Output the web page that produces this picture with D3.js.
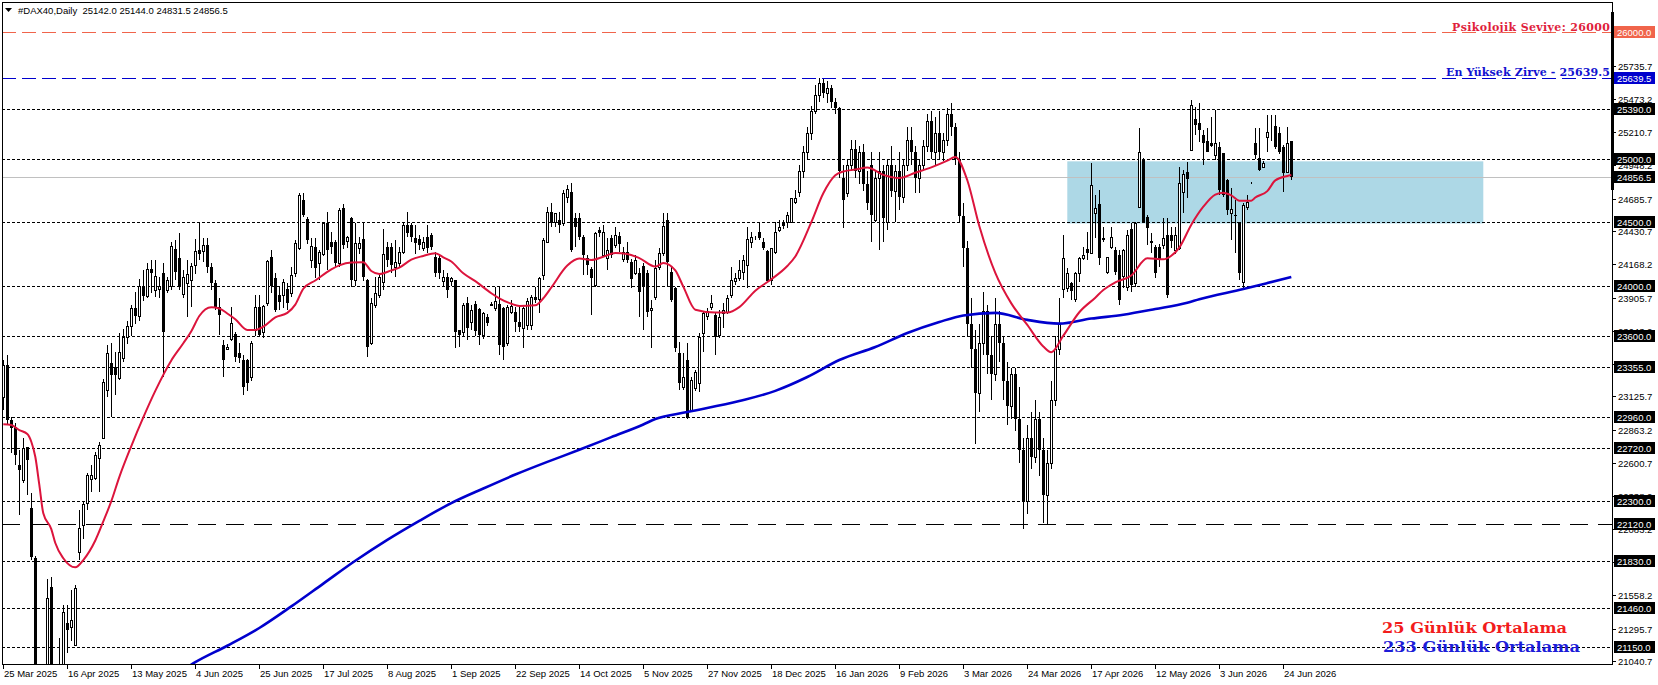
<!DOCTYPE html>
<html><head><meta charset="utf-8">
<script src="https://cdn.jsdelivr.net/npm/d3@7"></script>
<style>html,body{margin:0;padding:0;background:#fff;overflow:hidden}</style>
</head><body>
<svg id="c" width="1658" height="685"></svg>
<script>
const headerText = "#DAX40,Daily  25142.0 25144.0 24831.5 24856.5";

const opens = [
23122,23374,22940,22885,22585,22467,22727,22246,21850,20300,
19900,20700,21620,20950,20700,20950,21340,21310,21166,21900,
22112,22286,22475,22483,22640,22798,23177,23390,23358,23271,
23429,23595,23680,23820,23760,24000,23920,24128,23966,23971,
24097,23966,23997,24286,24215,23934,24023,24044,24163,24281,
24276,24320,24144,24018,23834,23532,23500,23576,23618,23466,
23414,23414,23282,23650,23834,23637,23860,24223,24057,23926,
23926,23971,23939,24097,24294,24675,24523,24202,24307,24176,
24250,24497,24347,24347,24176,24610,24355,24531,24044,24300,
24365,24044,23545,23847,23926,24031,24307,24307,24144,24181,
24268,24478,24478,24373,24365,24300,24386,24400,24228,24215,
24039,24070,24039,24044,23650,23637,23866,23716,23855,23813,
23611,23755,23850,23821,23855,23821,23545,23795,23795,23716,
23663,23690,23690,23913,23892,24084,24347,24583,24504,24518,
24491,24700,24741,24531,24531,24386,24215,24128,24005,24439,
24242,24215,24373,24320,24391,24207,24268,24189,24097,24097,
24155,24097,23808,23913,24150,24255,24518,24110,23979,23466,
23203,23414,23019,23190,23230,23624,23760,23834,23768,23611,
23781,23795,23926,24040,24057,24110,24163,24340,24373,24425,
24347,24276,24044,24268,24439,24490,24504,24504,24660,24741,
24900,25050,25200,25380,25500,25600,25520,25560,25450,25400,
24850,24728,24950,25080,24900,25050,24800,24950,24518,24850,
24900,24500,24950,24750,24900,24700,24950,25150,25050,24850,
24950,25100,25300,25050,25200,25050,25150,25350,25250,25000,
24550,24300,23700,23500,23150,23550,23800,23450,23300,23700,
23550,23250,23050,23300,22950,22700,22300,22800,22650,22950,
22700,22350,22600,23100,23500,23971,23979,24023,23892,24097,
24215,24286,24254,24570,24644,24373,24110,24307,24281,24241,
24076,23992,24444,24018,24622,24996,24544,24350,24307,24307,
24320,24399,24399,24281,24294,24741,24899,25070,25311,25285,
25188,25143,25122,25030,25096,25043,24833,24570,24560,24504,
24031,24617,24812,25122,25004,24938,25169,25148,25259,25201,
25096,24899,25142];

const highs = [
23413,23453,22960,22917,22704,22798,22727,22365,21870,20800,
20900,21690,21700,21000,21220,21480,21480,21600,21640,22230,
22290,22522,22585,22690,22767,23260,23532,23547,23476,23626,
23660,23720,23850,23950,24050,24120,24180,24200,24200,24070,
24176,24070,24347,24360,24412,24123,24200,24176,24365,24491,
24373,24373,24176,24044,23900,23571,23540,23834,23637,23545,
23450,23420,23560,23926,23926,23850,24202,24281,24097,23992,
24050,24018,24150,24360,24728,24733,24540,24373,24373,24281,
24497,24583,24426,24360,24610,24644,24390,24540,24491,24380,
24491,24050,23900,24070,24100,24444,24347,24333,24360,24307,
24491,24583,24491,24478,24400,24380,24478,24412,24268,24250,
24123,24097,24070,24044,23650,23860,23913,23847,23880,23821,
23795,23780,23870,23992,23992,23834,23847,23887,23834,23834,
23834,23900,23926,23992,24070,24373,24623,24649,24570,24583,
24754,24790,24807,24570,24570,24400,24242,24150,24425,24465,
24478,24373,24400,24465,24425,24307,24347,24207,24242,24136,
24176,24123,23887,24202,24300,24570,24570,24150,23992,23558,
23466,23545,23282,23335,23624,23795,23820,23926,23781,23808,
23860,23926,24150,24097,24202,24242,24465,24420,24390,24504,
24373,24281,24294,24504,24518,24518,24583,24688,24754,24950,
25100,25250,25420,25580,25640,25630,25610,25580,25480,25410,
24950,25000,25150,25150,25100,25120,24900,25050,24900,25050,
24950,25000,25100,24950,25050,25000,25250,25250,25100,25000,
25150,25350,25380,25330,25380,25200,25400,25440,25280,25050,
24650,24350,23900,23650,23700,23950,23850,23600,23900,23800,
23600,23400,23350,23350,23200,22800,22900,23000,23100,23000,
22800,22700,23250,23600,23900,24400,24140,24030,24110,24228,
24307,24425,24964,24714,24754,24465,24228,24465,24307,24280,
24290,24440,24490,24505,25240,25004,24557,24412,24320,24330,
24530,24530,24465,24465,24938,24912,24978,25464,25411,25437,
25227,25240,25332,25385,25135,25043,24840,24767,24675,24504,
24649,24715,24820,25240,25240,24980,25346,25346,25346,25254,
25110,25254,25144];

const lows = [
23019,22900,22680,22585,22191,22440,22349,21836,20400,19100,
19600,20500,20800,20500,20600,20900,21100,21200,21160,21836,
22000,22230,22372,22470,22372,22790,23122,22964,23137,23255,
23400,23540,23600,23700,23720,23880,23900,23940,23913,23900,
23282,23940,23966,24044,23966,23900,23755,23834,24092,24202,
24189,24097,23966,23808,23611,23282,23490,23560,23400,23387,
23140,23170,23250,23600,23598,23590,23840,23940,23790,23808,
23821,23808,23913,24070,24281,24544,24330,24136,24057,24044,
24230,24123,24250,24150,24150,24290,24300,23992,24000,24250,
24040,23440,23530,23820,23900,23966,24150,24100,24070,24150,
24250,24380,24340,24250,24280,24270,24255,24280,24070,24050,
24000,23900,24000,23506,23519,23598,23571,23650,23600,23532,
23580,23680,23840,23800,23453,23414,23520,23780,23637,23637,
23506,23650,23650,23860,23782,24044,24334,24465,24465,24412,
24470,24650,24268,24307,24360,24084,24084,23768,23992,24380,
24228,24123,24220,24300,24268,24190,24180,23979,24080,23755,
23650,23750,23506,23890,24120,24230,23992,23870,23480,23177,
23180,22946,23000,23170,23164,23480,23730,23810,23453,23590,
23663,23780,23900,24005,24040,24044,23979,24300,24360,24360,
24280,24031,24005,24250,24420,24450,24452,24490,24640,24700,
24850,25000,25150,25350,25450,25480,25440,25400,25350,24850,
24452,24700,24900,24850,24800,24750,24600,24347,24500,24281,
24347,24439,24700,24500,24600,24650,24900,24950,24728,24728,
24900,25050,25000,24950,25000,24980,25100,25180,24950,24500,
24150,23600,23350,22750,23000,23450,23300,23100,23250,23400,
23100,22900,22950,22850,22600,22080,22200,22550,22600,22500,
22130,22120,22550,23050,23450,23900,23950,23885,23870,24030,
24200,24202,24250,24373,24162,24340,24090,24290,24084,23850,
23980,23960,23950,23990,24610,24491,24320,24254,24057,24150,
24290,23900,24300,24250,24280,24570,24688,25060,25188,25135,
24951,25050,25090,24990,24715,24700,24560,24360,24255,24044,
23965,24600,24800,25000,24900,24930,25050,25140,25080,25040,
24741,24890,24831.5];

const closes = [
23374,22940,22880,22664,22546,22720,22625,21860,20600,19900,
20500,21540,20950,20700,20950,21426,21285,21365,21615,22090,
22278,22506,22506,22664,22743,23240,23469,23295,23295,23476,
23595,23680,23820,23760,24000,23920,24130,24097,24076,23997,
23637,24044,24312,24110,23987,24070,24092,24155,24276,24250,
24320,24144,24023,23834,23768,23414,23519,23703,23440,23427,
23200,23230,23545,23834,23611,23839,24197,23997,23808,23874,
24031,23866,24084,24333,24715,24557,24360,24312,24136,24268,
24491,24281,24307,24176,24596,24320,24381,24044,24333,24333,
24070,23519,23866,23939,24070,24250,24202,24163,24189,24268,
24478,24418,24386,24333,24320,24347,24294,24307,24097,24097,
24070,23966,24057,23637,23611,23847,23663,23808,23640,23611,
23781,23708,23855,23881,23532,23519,23829,23839,23716,23671,
23821,23880,23913,23887,24057,24360,24583,24491,24570,24478,
24728,24760,24281,24465,24386,24242,24163,24057,24412,24418,
24425,24281,24242,24400,24328,24268,24202,24050,24202,23952,
23992,23795,23821,24136,24255,24470,24189,23887,23506,23230,
23282,22953,23256,23322,23598,23781,23803,23860,23598,23755,
23808,23900,24044,24060,24123,24202,24365,24380,24375,24373,
24294,24039,24294,24425,24465,24470,24557,24688,24688,24900,
25050,25200,25380,25500,25600,25520,25560,25450,25400,24900,
24675,24950,25080,24900,25050,24800,24650,24557,24850,24900,
24530,24950,24750,24900,24700,24950,25150,25050,24850,24950,
25100,25300,25050,25200,25050,25150,25350,25250,25000,24550,
24300,23700,23500,23150,23550,23800,23450,23300,23700,23550,
23250,23050,23300,22950,22700,22300,22800,22650,22950,22700,
22350,22600,23100,23500,23700,24215,24102,23960,24097,24215,
24241,24260,24793,24609,24215,24360,24223,24386,24110,23887,
24281,24399,24005,24496,25056,24491,24452,24339,24097,24200,
24373,23926,24350,24399,24812,24880,24838,25424,25267,25227,
25127,25056,25101,25127,24754,24715,24596,24601,24549,24097,
24636,24662,24812,25030,24912,24970,25209,25150,25096,25056,
24885,25122,24856.5];

// 25-day moving average, read at these bars
const ma25Bars = [0,2,4,6,7,8,9,10,12,13,15,18,20,23,25,27,29,32,35,38,42,45,47,49,52,54,56,58,61,63,65,68,71,73,75,78,82,84,87,90,92,94,97,99,102,105,108,110,112,115,118,122,124,127,129,133,135,137,141,144,147,150,153,156,159,163,165,168,170,173,178,181,184,188,192,196,198,202,205,208,210,213,216,220,224,228,232,236,238,241,244,248,252,256,260,262,265,269,273,275,278,282,286,290,292,294,297,300,303,305,307,309,312,313,316,318,321,322];
const ma25Values = [22906,22900,22861,22830,22769,22650,22430,22204,22080,21970,21850,21778,21836,21990,22140,22300,22490,22735,22961,23170,23410,23545,23640,23760,23829,23820,23780,23735,23650,23650,23676,23750,23785,23850,23975,24040,24128,24160,24183,24185,24115,24092,24120,24142,24205,24234,24255,24223,24190,24097,24035,23940,23900,23857,23840,23845,23900,23985,24158,24213,24202,24228,24258,24250,24217,24150,24178,24120,23992,23810,23787,23787,23830,23960,24050,24155,24230,24500,24728,24870,24900,24915,24932,24873,24848,24890,24932,24985,25015,24831,24470,24100,23860,23690,23520,23475,23605,23790,23905,23965,24025,24080,24215,24207,24235,24300,24480,24622,24718,24733,24712,24670,24670,24695,24745,24830,24865,24872];

// 233-day moving average, read at these bars
const ma233Bars = [44,48,56,64,72,80,88,96,104,112,120,128,136,144,152,160,163,171,184,193,201,209,218,226,234,240,248,256,264,272,280,288,296,299,310,316,322];
const ma233Values = [20950,21030,21160,21300,21470,21650,21830,21995,22145,22285,22400,22510,22610,22705,22805,22905,22948,23003,23090,23170,23279,23413,23516,23626,23713,23765,23785,23730,23700,23740,23770,23815,23865,23892,23973,24020,24068];

const xTickLabels = ["25 Mar 2025","16 Apr 2025","13 May 2025","4 Jun 2025","25 Jun 2025","17 Jul 2025","8 Aug 2025","1 Sep 2025","22 Sep 2025","14 Oct 2025","5 Nov 2025","27 Nov 2025","18 Dec 2025","16 Jan 2026","9 Feb 2026","3 Mar 2026","24 Mar 2026","17 Apr 2026","12 May 2026","3 Jun 2026","24 Jun 2026"];
const barsPerLabel = 16;

const axisTickValues = [25735.7,25473.2,25210.7,24948.2,24685.7,24430.7,24168.2,23905.7,23643.2,23380.7,23125.7,22863.2,22600.7,22338.2,22083.2,21820.7,21558.2,21295.7,21040.7];
const dottedLevels = [25390,25000,24500,24000,23600,23355,22960,22720,22300,21830,21460,21150];
const longDashLevel = 22120;
const psychLevel = 26000;
const athLevel = 25639.5;
const lastPrice = 24856.5;
const zoneTop = 24980, zoneBottom = 24490, zoneFromBar = 266, zoneToBar = 370;

const psychText = "Psikolojik Seviye: 26000";
const athText = "En Yüksek Zirve - 25639.5";
const legendFast = "25 Günlük Ortalama";
const legendSlow = "233 Günlük Ortalama";

// ---------- drawing ----------
const svg = d3.select("#c");
const P = {left: 2, top: 2, right: 1612, bottom: 664};
const y = d3.scaleLinear().domain([21016, 26236.6]).range([P.bottom, P.top]);
const x = d3.scaleLinear().domain([0, 400]).range([3.3, 1603.3]);
const AX = "Liberation Sans, Arial, sans-serif";

svg.append("rect").attr("width",1658).attr("height",685).attr("fill","#fff");
svg.append("defs").append("clipPath").attr("id","clip")
  .append("rect").attr("x",P.left).attr("y",P.top).attr("width",P.right-P.left).attr("height",P.bottom-P.top);
const g = svg.append("g").attr("clip-path","url(#clip)");

// zone
g.append("rect").attr("x",x(zoneFromBar)).attr("y",y(zoneTop))
  .attr("width",x(zoneToBar)-x(zoneFromBar)).attr("height",y(zoneBottom)-y(zoneTop))
  .attr("fill","#ADD8E6");

const hline = (v, color, dash, w) => g.append("line")
  .attr("x1",P.left).attr("x2",P.right)
  .attr("y1",Math.round(y(v))+0.5).attr("y2",Math.round(y(v))+0.5)
  .attr("stroke",color).attr("stroke-width",w||1)
  .attr("stroke-dasharray",dash||null).attr("shape-rendering","crispEdges");

hline(lastPrice, "#C0C0C0");
dottedLevels.forEach(v => hline(v, "#000", "3,2"));
hline(longDashLevel, "#000", "18,10");
hline(psychLevel, "#F0644B", "14,6");
hline(athLevel, "#0000CD", "14,6");

// candles
const cg = g.append("g").attr("shape-rendering","crispEdges");
closes.forEach((c, i) => {
  const cx = Math.round(x(i));
  const o = opens[i], h = highs[i], l = lows[i];
  cg.append("line").attr("x1",cx+0.5).attr("x2",cx+0.5)
    .attr("y1",y(h)).attr("y2",y(l)).attr("stroke","#000").attr("stroke-width",1);
  const top = Math.round(y(Math.max(o,c))), bot = Math.round(y(Math.min(o,c)));
  if (c >= o) {
    cg.append("rect").attr("x",cx-0.5).attr("y",top+0.5)
      .attr("width",2).attr("height",Math.max(bot-top,0))
      .attr("fill","#fff").attr("stroke","#000").attr("stroke-width",1);
  } else {
    cg.append("rect").attr("x",cx-1).attr("y",top)
      .attr("width",3).attr("height",Math.max(bot-top,1)).attr("fill","#000");
  }
});

// moving averages
const lineGen = d3.line().x(d => x(d[0])).y(d => y(d[1])).curve(d3.curveMonotoneX);
g.append("path").datum(ma233Bars.map((b,i)=>[b,ma233Values[i]]))
  .attr("d",lineGen).attr("fill","none").attr("stroke","#0000CD").attr("stroke-width",2.6);
g.append("path").datum(ma25Bars.map((b,i)=>[b,ma25Values[i]]))
  .attr("d",lineGen).attr("fill","none").attr("stroke","#DC143C").attr("stroke-width",2);

// annotations
const SERIF = "DejaVu Serif, Liberation Serif, serif";
svg.append("text").attr("x",1610).attr("y",y(psychLevel)-1.5).attr("text-anchor","end")
  .attr("font-family",SERIF).attr("font-size",11).attr("font-weight","bold").attr("fill","#E01E3C")
  .attr("textLength",158).attr("lengthAdjust","spacing").text(psychText);
svg.append("text").attr("x",1610).attr("y",y(athLevel)-1.5).attr("text-anchor","end")
  .attr("font-family",SERIF).attr("font-size",11).attr("font-weight","bold").attr("fill","#1212D0")
  .attr("textLength",164).attr("lengthAdjust","spacing").text(athText);
svg.append("text").attr("x",1382).attr("y",633)
  .attr("font-family",SERIF).attr("font-size",15).attr("font-weight","bold").attr("fill","#F21C1C")
  .attr("textLength",185).attr("lengthAdjust","spacingAndGlyphs").text(legendFast);
svg.append("text").attr("x",1383).attr("y",652)
  .attr("font-family",SERIF).attr("font-size",15).attr("font-weight","bold").attr("fill","#1C1CD8")
  .attr("textLength",197).attr("lengthAdjust","spacingAndGlyphs").text(legendSlow);

// frame
const fr = svg.append("g").attr("shape-rendering","crispEdges").attr("stroke","#000");
fr.append("line").attr("x1",P.left+0.5).attr("x2",P.left+0.5).attr("y1",P.top).attr("y2",P.bottom+1);
fr.append("line").attr("x1",P.left).attr("x2",P.right+1).attr("y1",P.top+0.5).attr("y2",P.top+0.5);
fr.append("line").attr("x1",P.right+0.5).attr("x2",P.right+0.5).attr("y1",P.top).attr("y2",P.bottom+1);
fr.append("line").attr("x1",P.left).attr("x2",P.right+1).attr("y1",P.bottom+0.5).attr("y2",P.bottom+0.5);
svg.append("rect").attr("x",P.right-1).attr("y",12).attr("width",3).attr("height",178).attr("fill","#000");

// right axis plain ticks
const ra = svg.append("g").attr("font-family",AX).attr("font-size",9.5);
axisTickValues.forEach(v => {
  const yy = Math.round(y(v));
  ra.append("line").attr("x1",P.right).attr("x2",P.right+4).attr("y1",yy+0.5).attr("y2",yy+0.5)
    .attr("stroke","#000").attr("shape-rendering","crispEdges");
  ra.append("text").attr("x",1618).attr("y",yy+3.5).attr("fill","#000").text(v.toFixed(1));
});
// boxed labels
const box = (v, bg) => {
  const yy = Math.round(y(v));
  ra.append("rect").attr("x",1614).attr("y",yy-6).attr("width",41).attr("height",12).attr("fill",bg);
  ra.append("text").attr("x",1617).attr("y",yy+3.5).attr("fill","#fff").text(v.toFixed(1));
};
dottedLevels.concat([longDashLevel]).forEach(v => box(v, "#000"));
box(lastPrice, "#000");
box(psychLevel, "#F0644B");
box(athLevel, "#0000CD");

// bottom axis
const ba = svg.append("g").attr("font-family",AX).attr("font-size",9.5);
xTickLabels.forEach((t, k) => {
  const xx = Math.round(x(k*barsPerLabel));
  ba.append("line").attr("x1",xx+0.5).attr("x2",xx+0.5).attr("y1",P.bottom).attr("y2",P.bottom+5)
    .attr("stroke","#000").attr("shape-rendering","crispEdges");
  ba.append("text").attr("x",xx+1).attr("y",677).attr("fill","#000").text(t);
});

// header
svg.append("path").attr("d","M5,8 L12,8 L8.5,12 Z").attr("fill","#000");
svg.append("text").attr("x",18).attr("y",13.5).attr("font-family",AX).attr("font-size",9.5)
  .attr("fill","#000").attr("xml:space","preserve").style("white-space","pre").text(headerText);
</script>
</body></html>
